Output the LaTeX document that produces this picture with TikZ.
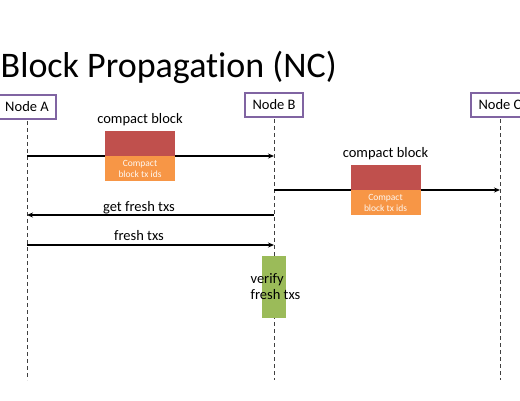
\documentclass[tikz,border=0pt]{standalone}
\usepackage{fontspec}
\setmainfont[Ligatures=NoCommon]{Carlito}
\usetikzlibrary{arrows.meta,positioning}
\definecolor{peerline}{HTML}{8064A2}
\definecolor{blockred}{HTML}{C0504D}
\definecolor{idsorange}{HTML}{F79646}
\definecolor{verifygreen}{HTML}{9BBB59}
\tikzset{
  peer/.style={draw=peerline, line width=1.1pt, fill=white, minimum width=58pt,
    minimum height=24pt, inner sep=2pt, font=\fontsize{14.5}{16}\selectfont},
  lifeline/.style={dashed, dash pattern=on 4pt off 3pt, line width=1pt, black!75},
  msg/.style={line width=1.1pt, -{Stealth[length=6pt,width=5pt]}},
  msglabel/.style={font=\fontsize{14.5}{16}\selectfont, inner sep=0pt},
  blockhead/.style={fill=blockred, minimum width=70pt, minimum height=25pt, inner sep=0pt},
  blockids/.style={fill=idsorange, minimum width=70pt, minimum height=25pt, inner sep=0pt,
    text=white!92!idsorange, align=center, font=\fontsize{9.5}{11.5}\selectfont}
}
\begin{document}
\begin{tikzpicture}[x=1pt, y=-1pt]
    \useasboundingbox (0,0) rectangle (520,400);

    % Title
    \node[anchor=base west, inner sep=0pt, font=\fontsize{36}{40}\selectfont] (title) at (0.5,77) {Block Propagation (NC)};

    % Lifelines of the peers
    \foreach \name/\lbl/\x/\y in {nA/Node A/27/107, nB/Node B/274/105, nC/Node C/500/105} {
        \coordinate (\name end) at (\x,380);
        \draw[lifeline] (\x,\y) -- (\name end);
        \node[peer] (\name) at (\x,\y) {\lbl};
    }

    % Message end points
    \coordinate (a1) at (27,156);
    \coordinate (b1) at (274,156);
    \coordinate (b2) at (274,190);
    \coordinate (c2) at (500,190);
    \coordinate (b3) at (274,215);
    \coordinate (a3) at (27,215);
    \coordinate (a4) at (27,245);
    \coordinate (b4) at (274,245);

    % Compact block A -> B
    \draw[msg] (a1) -- (b1);
    \node[blockhead, anchor=south] (cb1) at (140,156) {};
    \node[blockids, anchor=north] (ids1) at (140,156) {Compact\\block tx ids};
    \node[msglabel, above=5pt of cb1] (cbl1) {compact block};

    % Compact block B -> C
    \draw[msg] (b2) -- (c2);
    \node[blockhead, anchor=south] (cb2) at (385.5,190) {};
    \node[blockids, anchor=north] (ids2) at (385.5,190) {Compact\\block tx ids};
    \node[msglabel, above=5pt of cb2] (cbl2) {compact block};

    % Missing transactions
    \draw[msg] (b3) -- (a3);
    \node[msglabel, anchor=base] (get) at (139,211) {get fresh txs};
    \draw[msg] (a4) -- (b4);
    \node[msglabel, anchor=base] (fresh) at (139,240) {fresh txs};

    % Verification at B
    \node[fill=verifygreen, minimum width=24pt, minimum height=62pt, inner sep=0pt] (verify) at (274,287) {};
    \node[msglabel, align=left] (verifytxt) at (275.5,287) {verify\\fresh txs};
\end{tikzpicture}
\end{document}
